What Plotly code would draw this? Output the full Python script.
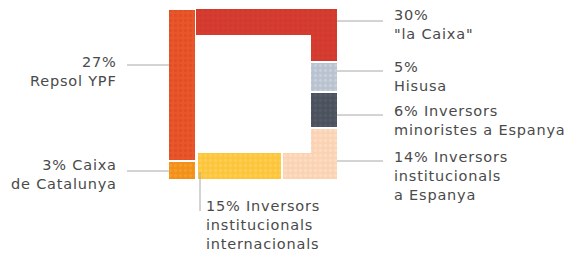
import plotly.graph_objects as go

# ---- data ----
names = ["Caixa de Catalunya", "Repsol YPF", "la Caixa", "Hisusa",
         "Inversors minoristes a Espanya", "Inversors institucionals a Espanya",
         "Inversors institucionals internacionals"]
shares = [3, 27, 30, 5, 6, 14, 15]
label_text = ["3% Caixa<br>de Catalunya", "27%<br>Repsol YPF", "30%<br>\"la Caixa\"",
              "5%<br>Hisusa", "6% Inversors<br>minoristes a Espanya",
              "14% Inversors<br>institucionals<br>a Espanya",
              "15% Inversors<br>institucionals<br>internacionals"]
colors = ["#f39019", "#e9562a", "#d63c2f", "#b9c2cf", "#4b525d", "#fbd3b3", "#fdc53c"]
dot_colors = ["#f7a83c", "#d9431f", "#c9362b", "#d6dce5", "#5d6470", "#fde6d3", "#fed867"]

# ---- ring geometry (layout, page pixels) ----
L, R, TOP, BOT, T, GAP = 169, 337, 9, 179, 26, 2.5
sides = [
    ("v", (L, L + T), BOT, TOP),
    ("h", (TOP, TOP + T), L + T, R),
    ("v", (R - T, R), TOP + T, BOT),
    ("h", (BOT - T, BOT), R - T, L + T),
]
total_len = sum(abs(e - s) for _, _, s, e in sides)
k = (total_len - GAP * len(shares)) / sum(shares)

fig = go.Figure()

def pieces(s0, s1):
    out = []
    acc = 0
    for kind, fixed, a, b in sides:
        ln = abs(b - a)
        lo, hi = max(s0, acc), min(s1, acc + ln)
        if hi - lo > 0.8:
            d = 1 if b > a else -1
            p0 = a + d * (lo - acc)
            p1 = a + d * (hi - acc)
            out.append((kind, fixed, min(p0, p1), max(p0, p1)))
        acc += ln
    return out

s = 0
for i, v in enumerate(shares):
    seg = pieces(s, s + v * k)
    s += v * k + GAP
    for kind, fixed, p0, p1 in seg:
        c = (fixed[0] + fixed[1]) / 2
        w = fixed[1] - fixed[0]
        pat = dict(shape=".", fgcolor=dot_colors[i], bgcolor=colors[i], size=5, solidity=0.35)
        if kind == "v":
            fig.add_trace(go.Bar(x=[c], y=[p1 - p0], base=[p0], width=[w], orientation="v",
                                 marker=dict(color=colors[i], pattern=pat, line=dict(width=0)),
                                 name=names[i], showlegend=False, hoverinfo="name"))
        else:
            fig.add_trace(go.Bar(y=[c], x=[p1 - p0], base=[p0], width=[w], orientation="h",
                                 marker=dict(color=colors[i], pattern=pat, line=dict(width=0)),
                                 name=names[i], showlegend=False, hoverinfo="name"))

# ---- labels & leader lines (layout) ----
font = dict(family="DejaVu Sans, Verdana, sans-serif", size=14.5, color="#4a4a4a")
line_col = "#a8a8a8"
# (x, y, yshift, xanchor, leader x0, y0, x1, y1)
label_pos = [
    (119, 156, 1, "right", 127, 171, L, 171),
    (119, 53, 1, "right", 127, 65, L, 65),
    (392, 8, 3, "left", R, 21, 383, 21),
    (392, 59, 2, "left", R, 71, 383, 71),
    (392, 103, 2, "left", R, 115, 383, 115),
    (392, 148, 1, "left", R, 161, 383, 161),
    (204, 196, 0, "left", 200, 172, 200, 211),
]

def spaced(txt):
    return "<br>".join('<span style="letter-spacing:0.8px">%s</span>' % ln for ln in txt.split("<br>"))

for txt, (x, y, ys, xa, x0, y0, x1, y1) in zip(label_text, label_pos):
    fig.add_annotation(x=x, y=y, yshift=ys, xref="x", yref="y", text=spaced(txt), showarrow=False,
                       xanchor=xa, yanchor="top", align=xa, font=font)
    fig.add_shape(type="line", x0=x0, y0=y0, x1=x1, y1=y1, xref="x", yref="y",
                  line=dict(color=line_col, width=1))

# page has an 8px body margin: figure spans page pixels 8..584 x 8..255
OFF = 8
fig.update_layout(
    width=584 - OFF, height=255 - OFF, margin=dict(l=0, r=0, t=0, b=0),
    paper_bgcolor="white", plot_bgcolor="white", barmode="overlay", bargap=0,
    xaxis=dict(range=[OFF, 584], visible=False, fixedrange=True),
    yaxis=dict(range=[255, OFF], visible=False, fixedrange=True),
)
fig.write_html("out.html")
